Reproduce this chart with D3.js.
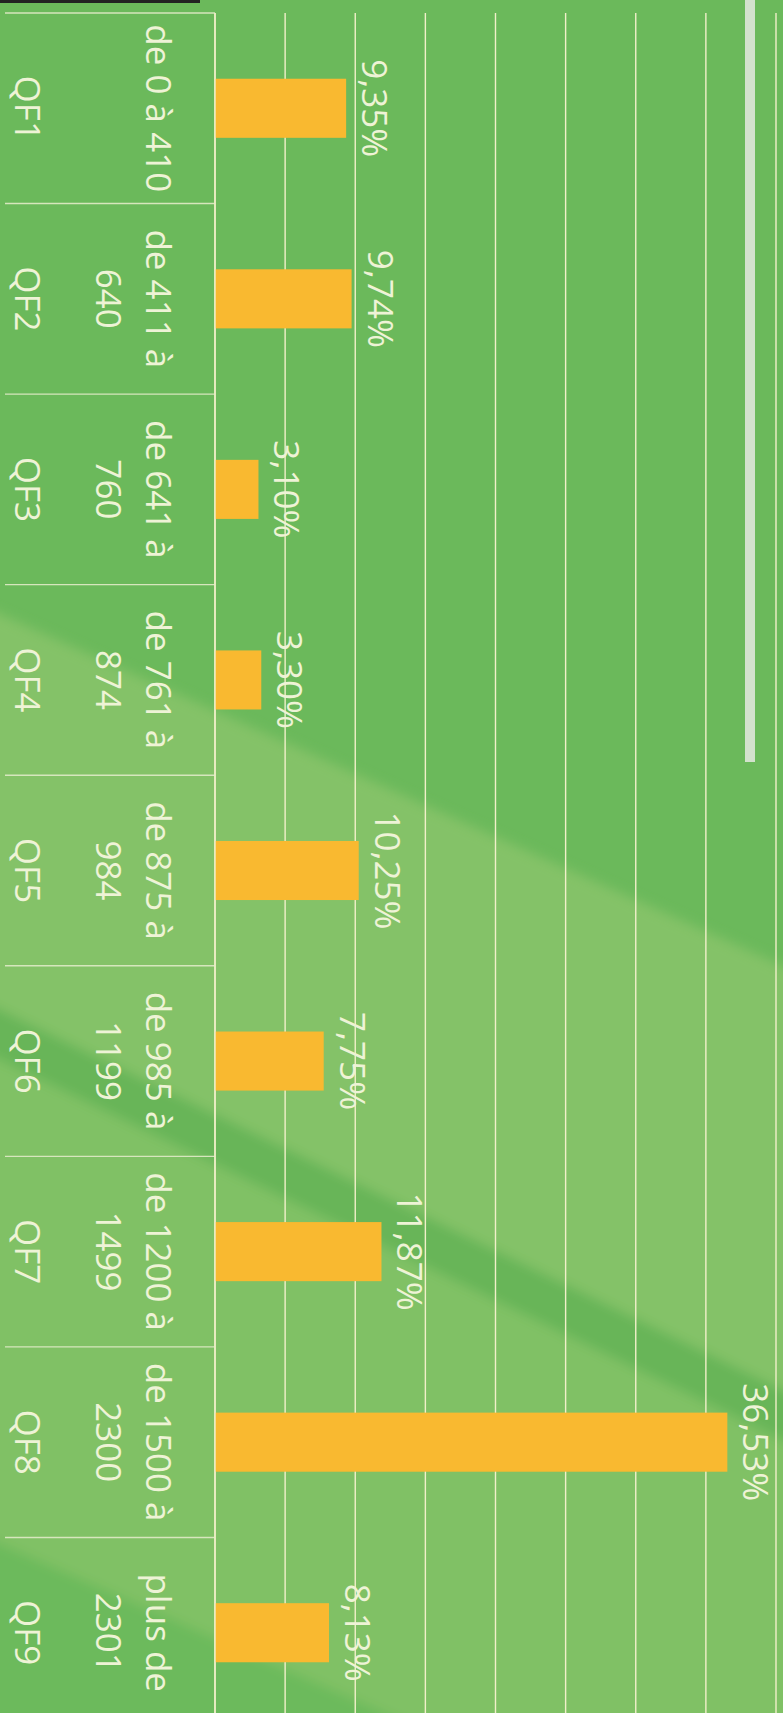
<!DOCTYPE html>
<html>
<head>
<meta charset="utf-8">
<script src="https://cdn.jsdelivr.net/npm/d3@7"></script>
<style>
  html, body { margin: 0; padding: 0; background: #6bb95b; }
  svg { display: block; }
</style>
</head>
<body>
<svg width="783" height="1713"></svg>
<script>
// quotient familial rows, read top to bottom
const codes = ["QF1", "QF2", "QF3", "QF4", "QF5", "QF6", "QF7", "QF8", "QF9"];
const rangeLines = [
  ["de 0 à 410"],
  ["de 411 à", "640"],
  ["de 641 à", "760"],
  ["de 761 à", "874"],
  ["de 875 à", "984"],
  ["de 985 à", "1199"],
  ["de 1200 à", "1499"],
  ["de 1500 à", "2300"],
  ["plus de", "2301"]
];
const shares = [9.35, 9.74, 3.10, 3.30, 10.25, 7.75, 11.87, 36.53, 8.13];
const gridValues = [0, 5, 10, 15, 20, 25, 30, 35, 40];

const svg = d3.select("svg");
const width = +svg.attr("width");
const height = +svg.attr("height");
let margin = ({top: 13, right: 7, bottom: -15, left: 215});
const textColor = "#eef3d6";
const font = "'Open Sans', sans-serif";

const data = codes.map((c, i) => ({code: c, lines: rangeLines[i], value: shares[i]}));

const x = d3.scaleLinear().domain([0, 40]).range([margin.left, width - margin.right]);
const y = d3.scaleBand().domain(codes).range([margin.top, height - margin.bottom]);
const barH = y.bandwidth() * 0.31;

// soft edges for the printed background bands
svg.append("defs").append("filter")
  .attr("id", "soft")
  .attr("x", "-10%").attr("y", "-10%").attr("width", "120%").attr("height", "120%")
  .append("feGaussianBlur").attr("stdDeviation", 6);

// background shading (diagonal bands of the page)
svg.append("rect").attr("width", width).attr("height", height).attr("fill", "#6bb95b");
const bg = svg.append("g").attr("filter", "url(#soft)");
bg.append("path")
  .attr("d", `M-20,605 L${width + 20},975 L${width + 20},1400 L-20,1000 Z`)
  .attr("fill", "#84c268");
bg.append("path")
  .attr("d", `M-20,1000 L${width + 20},1400 L${width + 20},1450 L-20,1050 Z`)
  .attr("fill", "#67b558");
bg.append("path")
  .attr("d", `M-20,1050 L${width + 20},1450 L${width + 20},${height + 20} L-20,${height + 20} Z`)
  .attr("fill", "#80c165");
bg.append("path")
  .attr("d", `M-20,1535 L430,${height + 20} L-20,${height + 20} Z`)
  .attr("fill", "#6cba5c");

svg.append("rect").attr("x", 0).attr("y", 0).attr("width", 200).attr("height", 3).attr("fill", "#222");

// vertical gridlines
svg.append("g")
  .selectAll("line")
  .data(gridValues)
  .join("line")
  .attr("x1", d => x(d)).attr("x2", d => x(d))
  .attr("y1", margin.top).attr("y2", height)
  .attr("stroke", "#f1f0c9")
  .attr("stroke-width", 1.4);

// pale rule near the right edge
svg.append("rect")
  .attr("x", 745).attr("y", 0)
  .attr("width", 10).attr("height", 762)
  .attr("fill", "#d3e2cd");

// row separators of the label table
svg.append("g")
  .selectAll("line")
  .data(codes)
  .join("line")
  .attr("x1", 5).attr("x2", margin.left)
  .attr("y1", d => y(d)).attr("y2", d => y(d))
  .attr("stroke", "#d6e6bd")
  .attr("stroke-width", 1.4);

// bars
svg.append("g")
  .selectAll("rect")
  .data(data)
  .join("rect")
  .attr("x", x(0))
  .attr("y", d => y(d.code) + (y.bandwidth() - barH) / 2)
  .attr("width", d => x(d.value) - x(0))
  .attr("height", barH)
  .attr("fill", "#f9b930");

// value labels, rotated like the whole page
svg.append("g")
  .selectAll("text")
  .data(data)
  .join("text")
  .attr("transform", d => `translate(${x(d.value) + 16},${y(d.code) + y.bandwidth() / 2}) rotate(90)`)
  .attr("text-anchor", "middle")
  .attr("fill", textColor)
  .style("font", `35px ${font}`)
  .text(d => d.value.toFixed(2).replace(".", ",") + "%");

// category labels
const row = svg.append("g")
  .selectAll("g")
  .data(data)
  .join("g")
  .attr("transform", d => `translate(0,${y(d.code) + y.bandwidth() / 2})`)
  .attr("text-anchor", "middle")
  .attr("fill", textColor)
  .style("font", `35px ${font}`);

row.selectAll("text.range")
  .data(d => d.lines)
  .join("text")
  .attr("class", "range")
  .attr("transform", (d, i) => `translate(${146 - i * 50},0) rotate(90)`)
  .text(d => d);

row.append("text")
  .attr("transform", "translate(15,0) rotate(90)")
  .text(d => d.code);

// axis line
svg.append("line")
  .attr("x1", x(0)).attr("x2", x(0))
  .attr("y1", margin.top).attr("y2", height)
  .attr("stroke", "#f1f0c9")
  .attr("stroke-width", 1.4);
</script>
</body>
</html>
